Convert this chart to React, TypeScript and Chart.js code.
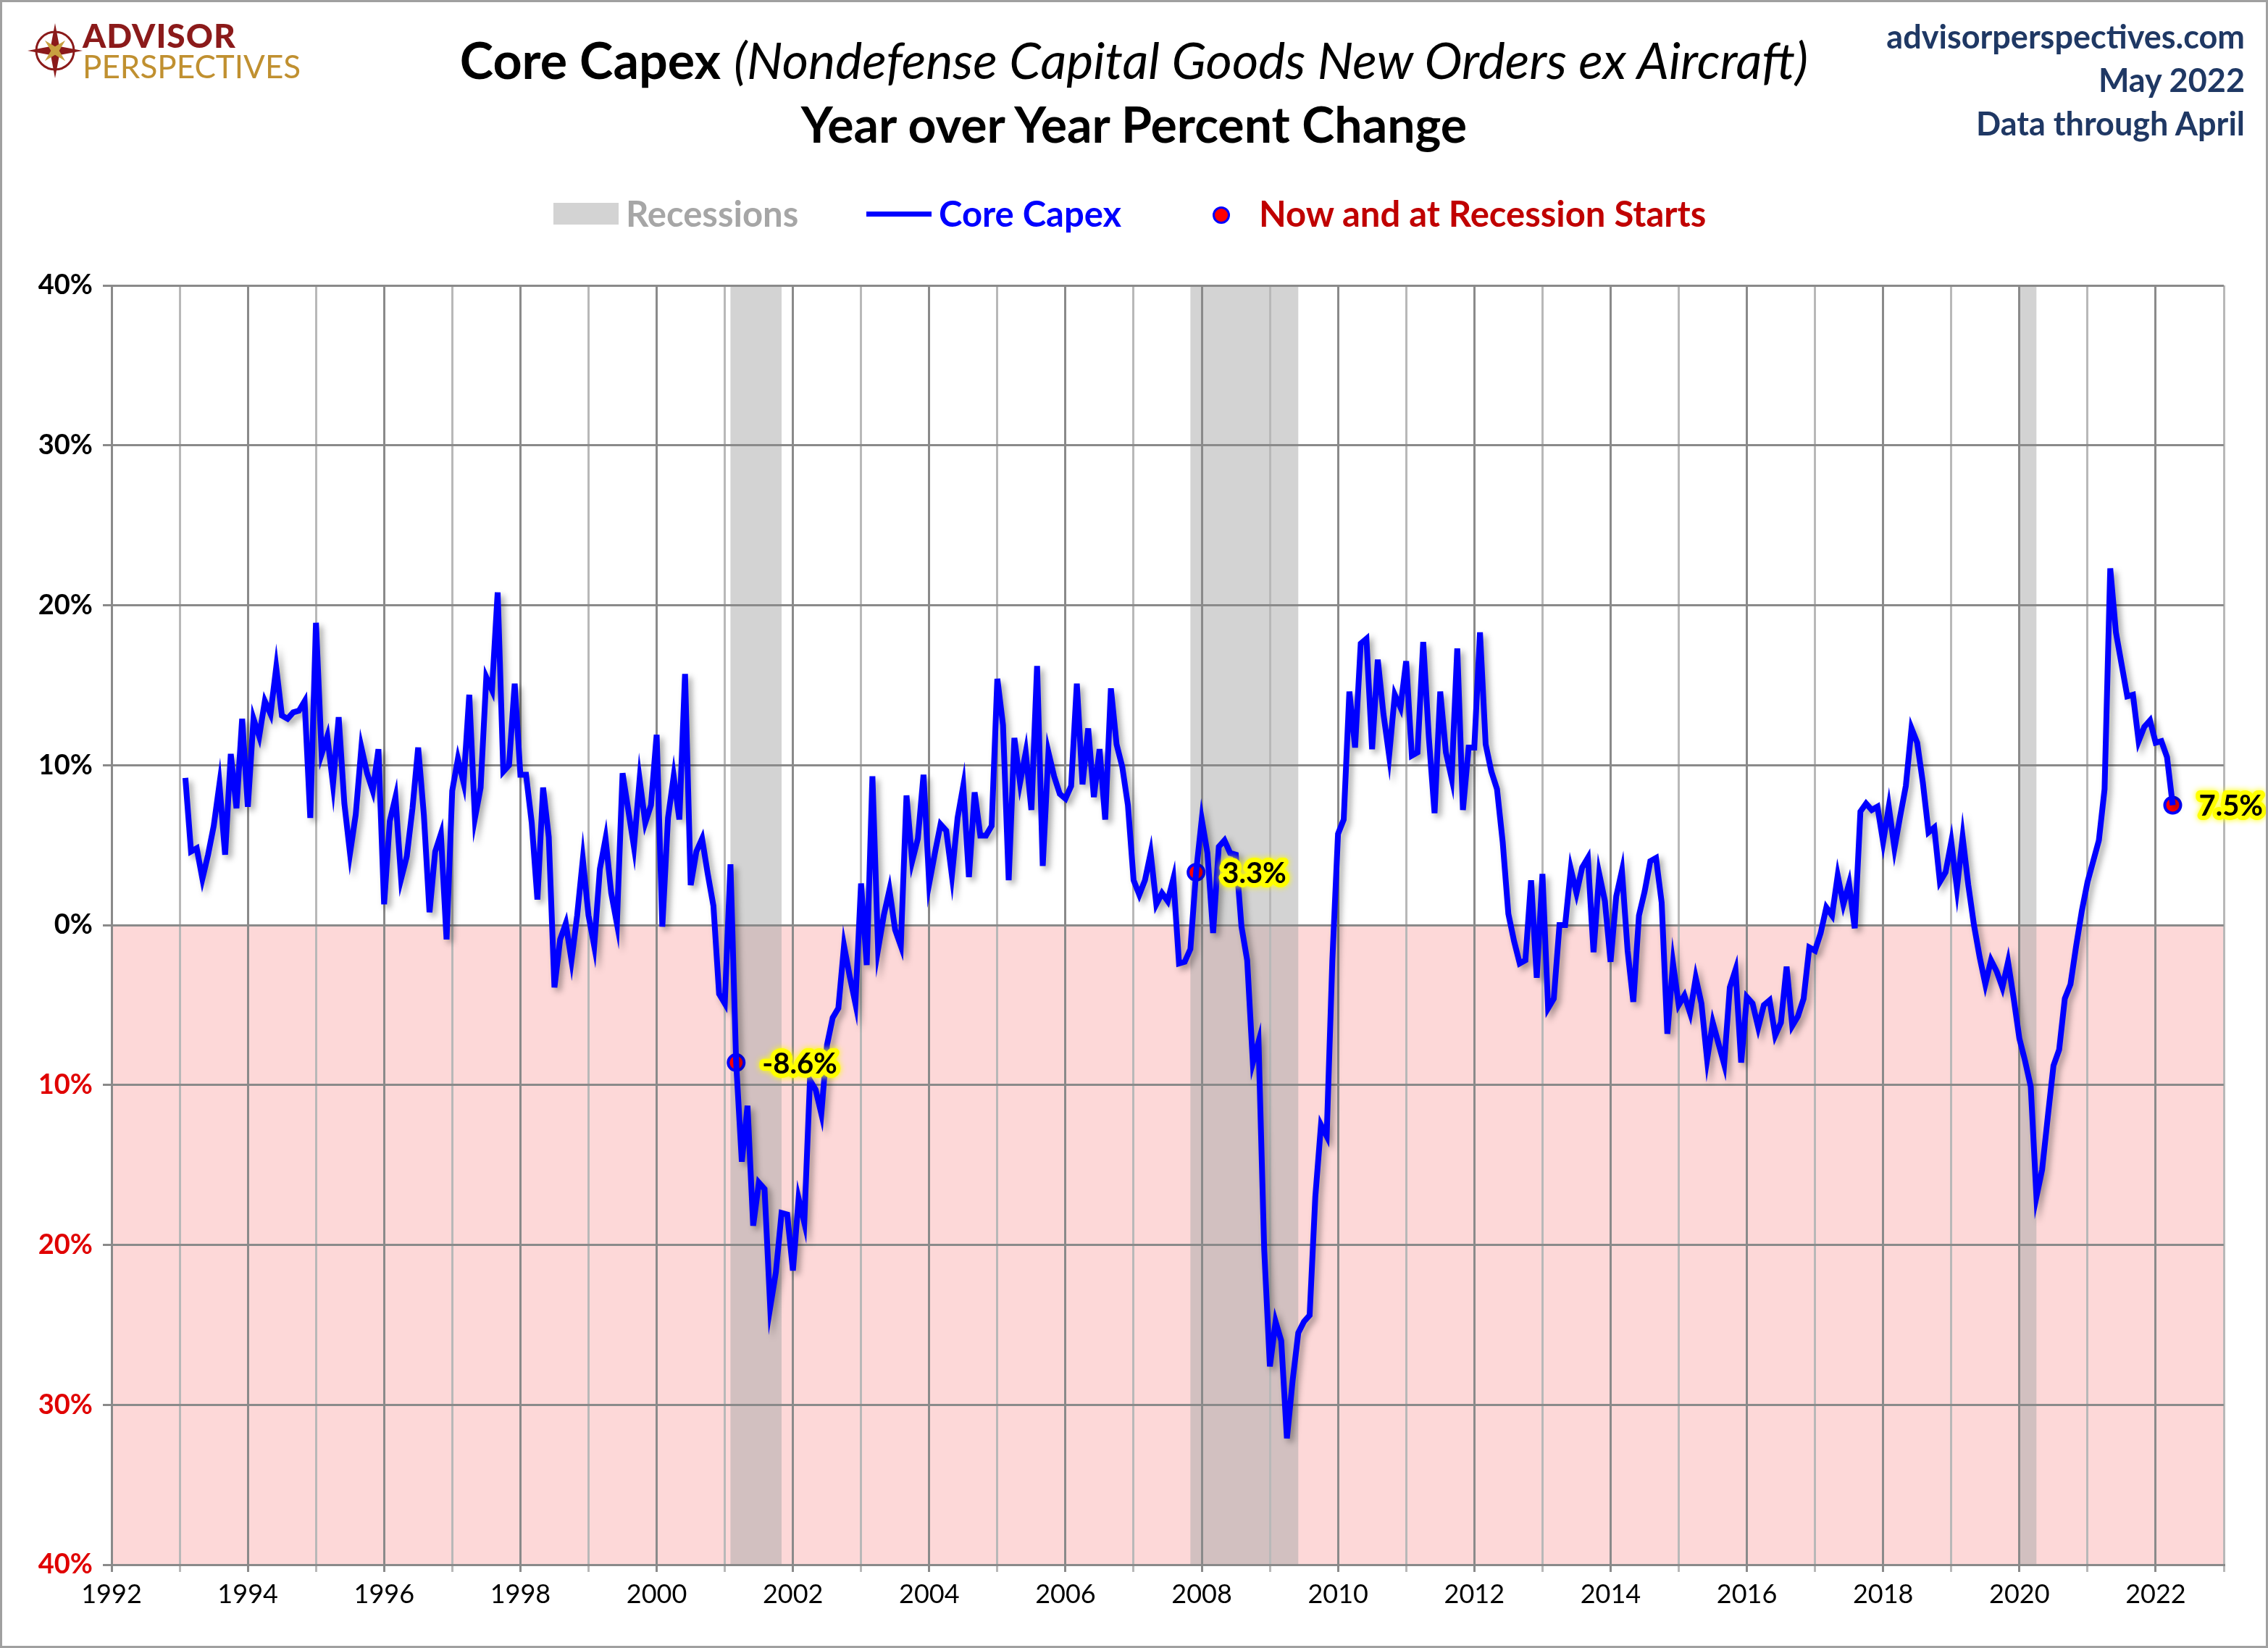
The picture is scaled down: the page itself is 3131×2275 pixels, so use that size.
import React, { useEffect, useRef } from "react";
import { Chart, registerables } from "chart.js";
Chart.register(...registerables);

const startYear = 1993;
const startMonth = 2; // first value is Feb 1993
const capex1993 = [9.2, 4.6, 4.8, 2.9, 4.4, 6.2, 8.8, 4.4, 10.7, 7.3, 12.9];
const capex1994 = [7.4, 12.9, 11.8, 14.0, 13.2, 16.1, 13.1, 12.9, 13.3, 13.4, 14.0, 6.7];
const capex1995 = [18.9, 10.7, 11.8, 8.8, 13.0, 7.6, 4.5, 6.9, 11.1, 9.5, 8.4, 11.0];
const capex1996 = [1.3, 6.5, 8.0, 2.9, 4.3, 7.3, 11.1, 6.9, 0.8, 4.6, 5.7, -0.9];
const capex1997 = [8.4, 10.4, 8.9, 14.4, 6.7, 8.6, 15.5, 14.7, 20.8, 9.6, 10.0, 15.1];
const capex1998 = [9.4, 9.4, 6.4, 1.6, 8.6, 5.5, -3.9, -0.9, 0.1, -2.2, 0.6, 4.1];
const capex1999 = [0.6, -1.3, 3.5, 5.4, 2.0, 0.1, 9.5, 7.2, 4.9, 9.1, 6.4, 7.5];
const capex2000 = [11.9, -0.1, 6.7, 9.3, 6.6, 15.7, 2.5, 4.6, 5.4, 3.2, 1.2, -4.3];
const capex2001 = [-4.9, 3.8, -8.6, -14.8, -11.3, -18.8, -16.1, -16.5, -23.9, -21.7, -18.0, -18.1];
const capex2002 = [-21.6, -17.1, -18.6, -9.7, -10.3, -11.8, -7.5, -5.8, -5.2, -1.3, -3.2, -4.9];
const capex2003 = [2.6, -2.5, 9.3, -1.5, 0.6, 2.2, -0.3, -1.3, 8.1, 4.0, 5.4, 9.4];
const capex2004 = [2.6, 4.5, 6.3, 5.9, 3.1, 6.7, 8.7, 3.0, 8.3, 5.6, 5.6, 6.2];
const capex2005 = [15.4, 12.5, 2.8, 11.7, 8.9, 10.8, 7.2, 16.2, 3.7, 10.8, 9.3, 8.2];
const capex2006 = [7.9, 8.7, 15.1, 8.8, 12.3, 8.0, 11.0, 6.6, 14.8, 11.3, 9.9, 7.5];
const capex2007 = [2.8, 1.9, 2.8, 4.5, 1.3, 2.0, 1.5, 2.9, -2.4, -2.3, -1.5, 3.3];
const capex2008 = [6.6, 4.5, -0.5, 4.9, 5.3, 4.5, 4.4, -0.1, -2.2, -8.6, -7.3, -20.3];
const capex2009 = [-27.6, -24.8, -26.0, -32.1, -28.5, -25.5, -24.8, -24.4, -17.0, -12.5, -13.2, -2.2];
const capex2010 = [5.7, 6.6, 14.6, 11.1, 17.6, 17.9, 11.0, 16.6, 13.2, 10.6, 14.4, 13.6];
const capex2011 = [16.5, 10.6, 10.8, 17.7, 11.7, 7.0, 14.6, 10.8, 9.2, 17.3, 7.2, 11.1];
const capex2012 = [11.1, 18.3, 11.3, 9.6, 8.5, 5.2, 0.7, -1.0, -2.4, -2.2, 2.8, -3.3];
const capex2013 = [3.2, -5.2, -4.6, 0.0, 0.0, 3.5, 2.0, 3.6, 4.2, -1.7, 3.2, 1.5];
const capex2014 = [-2.3, 1.8, 3.4, -1.6, -4.8, 0.6, 2.1, 4.0, 4.2, 1.4, -6.8, -2.4];
const capex2015 = [-5.0, -4.4, -5.5, -3.3, -4.9, -8.4, -6.1, -7.4, -8.7, -3.9, -2.8, -8.6];
const capex2016 = [-4.5, -4.9, -6.4, -5.0, -4.7, -6.9, -6.1, -2.6, -6.3, -5.7, -4.6, -1.4];
const capex2017 = [-1.6, -0.5, 1.1, 0.6, 3.1, 1.3, 2.6, -0.2, 7.1, 7.6, 7.2, 7.4];
const capex2018 = [5.2, 7.4, 4.8, 6.8, 8.7, 12.3, 11.4, 8.9, 5.8, 6.1, 2.7, 3.3];
const capex2019 = [5.2, 2.3, 5.5, 2.5, 0.0, -2.0, -3.7, -2.2, -2.9, -3.9, -2.3, -4.6];
const capex2020 = [-7.1, -8.5, -10.1, -17.0, -15.3, -12.0, -8.8, -7.8, -4.6, -3.7, -1.3, 0.9];
const capex2021 = [2.7, 4.0, 5.3, 8.5, 22.3, 18.3, 16.3, 14.3, 14.4, 11.5, 12.4, 12.8];
const capex2022 = [11.4, 11.5, 10.5, 7.5];

const capexValues = [
  ...capex1993, ...capex1994, ...capex1995, ...capex1996, ...capex1997, ...capex1998,
  ...capex1999, ...capex2000, ...capex2001, ...capex2002, ...capex2003, ...capex2004,
  ...capex2005, ...capex2006, ...capex2007, ...capex2008, ...capex2009, ...capex2010,
  ...capex2011, ...capex2012, ...capex2013, ...capex2014, ...capex2015, ...capex2016,
  ...capex2017, ...capex2018, ...capex2019, ...capex2020, ...capex2021, ...capex2022,
];

const markerDates = [[2001, 3], [2007, 12], [2022, 4]];
const markerValues = [-8.6, 3.3, 7.5];
const markerLabels = ["-8.6%", "3.3%", "7.5%"];

// recessions as [startYear, startMonth, endYear, endMonth]
const recessions = [[2001, 3, 2001, 11], [2007, 12, 2009, 6], [2020, 2, 2020, 4]];

const ym = (y: number, m: number) => y + (m - 1) / 12;

const W = 3131, H = 2275;
const FONT = "Lato, 'Open Sans', sans-serif";

const bgPlugin = {
  id: "bg",
  beforeDraw(chart: any) {
    const { ctx, chartArea: a, scales } = chart;
    const y0 = scales.y.getPixelForValue(0);
    ctx.save();
    ctx.fillStyle = "#fff";
    ctx.fillRect(0, 0, chart.width, chart.height);
    ctx.fillStyle = "#fdd8d8";
    ctx.fillRect(a.left, y0, a.right - a.left, a.bottom - y0);
    for (const r of recessions) {
      const x1 = scales.x.getPixelForValue(ym(r[0], r[1]) - 1 / 12);
      const x2 = scales.x.getPixelForValue(ym(r[2], r[3]));
      ctx.fillStyle = "#d3d3d3";
      ctx.fillRect(x1, a.top, x2 - x1, y0 - a.top);
      ctx.fillStyle = "#d2c0c0";
      ctx.fillRect(x1, y0, x2 - x1, a.bottom - y0);
    }
    ctx.restore();
  },
  beforeDatasetDraw(chart: any, args: any) {
    const ctx = chart.ctx;
    ctx.save();
    if (args.index === 0) {
      ctx.shadowColor = "rgba(0,0,0,0.35)";
      ctx.shadowBlur = 8;
      ctx.shadowOffsetX = 5;
      ctx.shadowOffsetY = 5;
    }
  },
  afterDatasetDraw(chart: any) {
    chart.ctx.restore();
  },
  afterDatasetsDraw(chart: any) {
    const { ctx } = chart;
    const meta = chart.getDatasetMeta(1);
    ctx.save();
    ctx.font = `bold 40px ${FONT}`;
    ctx.textBaseline = "middle";
    meta.data.forEach((pt: any, i: number) => {
      const x = pt.x + 36, y = pt.y + 2;
      ctx.lineJoin = "round";
      ctx.shadowColor = "#ffff00";
      ctx.shadowBlur = 8;
      ctx.strokeStyle = "#ffff00";
      ctx.lineWidth = 12;
      ctx.strokeText(markerLabels[i], x, y);
      ctx.shadowBlur = 0;
      ctx.fillStyle = "#000";
      ctx.fillText(markerLabels[i], x, y);
    });
    ctx.restore();
  },
};

function App() {
  const ref = useRef<HTMLCanvasElement>(null);
  useEffect(() => {
    const line = capexValues.map((v, i) => ({ x: ym(startYear, startMonth) + i / 12, y: v }));
    const marks = markerDates.map((d, i) => ({ x: ym(d[0], d[1]), y: markerValues[i] }));
    const chart = new Chart(ref.current!, {
      type: "line",
      data: {
        datasets: [
          { data: line, borderColor: "#0000ff", borderWidth: 8, pointRadius: 0, tension: 0 },
          {
            data: marks, showLine: false, pointRadius: 11, pointBackgroundColor: "#ff0000",
            pointBorderColor: "#0000ff", pointBorderWidth: 4,
          },
        ],
      },
      options: {
        animation: false,
        responsive: false,
        devicePixelRatio: 1,
        layout: { padding: { top: 394, right: 61, left: 0, bottom: 0 } },
        plugins: { legend: { display: false }, tooltip: { enabled: false } },
        scales: {
          x: {
            type: "linear", min: 1992, max: 2023,
            afterFit: (s: any) => { s.height = 115; },
            ticks: {
              stepSize: 1, autoSkip: false, maxRotation: 0, padding: 10,
              color: "#000", font: { family: FONT, size: 36 },
              callback: (v: any) => (v % 2 === 0 ? String(v) : ""),
            },
            grid: {
              color: (c: any) => (c.tick && c.tick.value % 2 === 0 ? "#8a8a8a" : "#b8b8b8"),
              lineWidth: 3, tickLength: 10,
            },
            border: { color: "#8a8a8a", width: 3 },
          },
          y: {
            min: -40, max: 40,
            afterFit: (s: any) => { s.width = 154; },
            ticks: {
              stepSize: 10, padding: 14,
              color: (c: any) => (c.tick && c.tick.value < 0 ? "#e00000" : "#000"),
              font: { family: FONT, size: 38, weight: "bold" },
              callback: (v: any) => Math.abs(v) + "%",
            },
            grid: { color: "#8a8a8a", lineWidth: 3, tickLength: 12 },
            border: { color: "#8a8a8a", width: 3 },
          },
        },
      },
      plugins: [bgPlugin],
    });
    return () => chart.destroy();
  }, []);

  const abs = (s: any) => ({ position: "absolute" as const, ...s });
  return (
    <div style={{ position: "absolute", left: 0, top: 0, width: W, height: H, background: "#fff", fontFamily: FONT, overflow: "hidden" }}>
      <canvas ref={ref} width={W} height={H} style={{ position: "absolute", left: 0, top: 0, width: W, height: H }} />
      <div style={abs({ left: 0, top: 0, width: W, height: H, border: "3px solid #a0a0a0", boxSizing: "border-box", pointerEvents: "none" })} />
      <svg style={abs({ left: 36, top: 30 })} width="80" height="80" viewBox="-40 -40 80 80">
        <circle r="26" fill="none" stroke="#8b1a1a" strokeWidth="3" />
        <polygon points="0,-38 6,-6 38,0 6,6 0,38 -6,6 -38,0 -6,-6" fill="#8b1a1a" />
        <polygon points="0,-20 4,-4 20,0 4,4 0,20 -4,4 -20,0 -4,-4" fill="#c8a040" transform="rotate(45)" />
      </svg>
      <div style={abs({ left: 114, top: 26, color: "#8b1a1a", fontWeight: 900, fontSize: 46, lineHeight: "46px", letterSpacing: 1 })}>ADVISOR</div>
      <div style={abs({ left: 114, top: 70, color: "#c09030", fontSize: 44, lineHeight: "42px" })}>PERSPECTIVES</div>
      <div style={abs({ left: 0, width: W, top: 44, textAlign: "center", fontSize: 70, lineHeight: "76px", color: "#000" })}>
        <b>Core Capex</b> <i>(Nondefense Capital Goods New Orders ex Aircraft)</i>
      </div>
      <div style={abs({ left: 0, width: W, top: 134, textAlign: "center", fontSize: 68, lineHeight: "74px", fontWeight: "bold", color: "#000" })}>
        Year over Year Percent Change
      </div>
      <div style={abs({ right: 32, top: 20, textAlign: "right", color: "#1f3864", fontWeight: "bold", fontSize: 45, lineHeight: "60px" })}>
        <div>advisorperspectives.com</div>
        <div>May 2022</div>
        <div>Data through April</div>
      </div>
      <div style={abs({ left: 764, top: 280, width: 90, height: 30, background: "#d3d3d3" })} />
      <div style={abs({ left: 864, top: 266, color: "#a6a6a6", fontWeight: "bold", fontSize: 49, lineHeight: "56px" })}>Recessions</div>
      <div style={abs({ left: 1196, top: 292, width: 90, height: 7, background: "#0000ff" })} />
      <div style={abs({ left: 1296, top: 266, color: "#0000ff", fontWeight: "bold", fontSize: 49, lineHeight: "56px" })}>Core Capex</div>
      <div style={abs({ left: 1674, top: 285, width: 18, height: 18, borderRadius: "50%", background: "#ff0000", border: "3px solid #0000ff" })} />
      <div style={abs({ left: 1738, top: 266, color: "#c00000", fontWeight: "bold", fontSize: 49, lineHeight: "56px" })}>Now and at Recession Starts</div>
    </div>
  );
}

export default App;
